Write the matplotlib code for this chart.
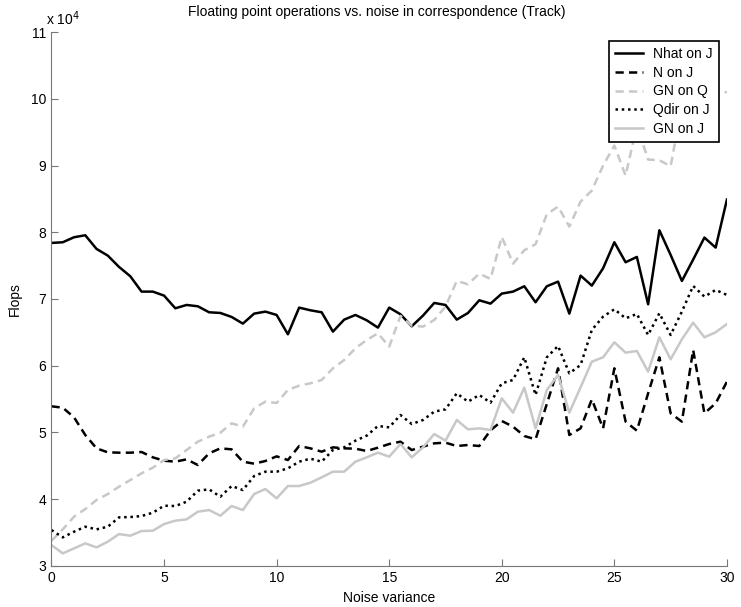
import numpy as np
import matplotlib
matplotlib.use('Agg')
from matplotlib import pyplot as plt

plt.rcParams['font.family'] = ['Liberation Sans', 'DejaVu Sans']

# noise variance levels, 0 to 30 in steps of 0.5
noise = np.linspace(0, 30, 61)

# flops, in units of 1e4
nhat_j = [7.84, 7.85, 7.925, 7.955, 7.75, 7.65, 7.48, 7.34, 7.11, 7.11,
          7.05, 6.86, 6.91, 6.89, 6.80, 6.79, 6.73, 6.63, 6.78, 6.81,
          6.76, 6.47, 6.87, 6.83, 6.80, 6.51, 6.69, 6.76, 6.68, 6.57,
          6.87, 6.77, 6.59, 6.75, 6.94, 6.91, 6.69, 6.79, 6.98, 6.93,
          7.08, 7.11, 7.19, 6.95, 7.19, 7.26, 6.78, 7.35, 7.20, 7.46,
          7.85, 7.55, 7.63, 6.92, 8.03, 7.66, 7.27, 7.59, 7.92, 7.77,
          8.49]
n_j = [5.39, 5.37, 5.225, 4.96, 4.76, 4.70, 4.695, 4.695, 4.705, 4.625,
       4.575, 4.56, 4.595, 4.51, 4.685, 4.76, 4.745, 4.56, 4.53, 4.57,
       4.64, 4.585, 4.795, 4.76, 4.71, 4.775, 4.76, 4.755, 4.72, 4.77,
       4.825, 4.86, 4.735, 4.785, 4.835, 4.845, 4.795, 4.81, 4.795, 5.03,
       5.17, 5.085, 4.945, 4.895, 5.425, 5.96, 4.96, 5.06, 5.495, 5.06,
       5.96, 5.16, 5.025, 5.585, 6.125, 5.285, 5.16, 6.235, 5.285, 5.435,
       5.76]
gn_q = [3.375, 3.545, 3.735, 3.85, 3.985, 4.075, 4.185, 4.285, 4.385, 4.47,
        4.585, 4.61, 4.735, 4.86, 4.935, 4.995, 5.135, 5.085, 5.36, 5.46,
        5.44, 5.635, 5.70, 5.735, 5.785, 5.96, 6.085, 6.26, 6.385, 6.485,
        6.285, 6.745, 6.60, 6.585, 6.685, 6.885, 7.27, 7.22, 7.38, 7.30,
        7.93, 7.53, 7.73, 7.82, 8.27, 8.385, 8.085, 8.46, 8.625, 9.0,
        9.3, 8.85, 9.6, 9.09, 9.08, 8.99, 9.9, 9.7, 10.2, 10.1,
        10.1]
qdir_j = [3.535, 3.425, 3.51, 3.585, 3.545, 3.585, 3.725, 3.73, 3.745, 3.795,
          3.90, 3.895, 3.96, 4.125, 4.145, 4.035, 4.195, 4.135, 4.345, 4.41,
          4.41, 4.46, 4.56, 4.605, 4.56, 4.735, 4.775, 4.875, 4.95, 5.095,
          5.075, 5.26, 5.125, 5.185, 5.31, 5.345, 5.585, 5.46, 5.56, 5.445,
          5.735, 5.785, 6.125, 5.56, 6.125, 6.295, 5.885, 6.01, 6.535, 6.735,
          6.845, 6.71, 6.775, 6.46, 6.785, 6.46, 6.81, 7.195, 7.035, 7.135,
          7.06]
gn_j = [3.31, 3.185, 3.26, 3.335, 3.275, 3.36, 3.475, 3.45, 3.52, 3.525,
        3.625, 3.675, 3.695, 3.81, 3.835, 3.75, 3.895, 3.835, 4.075, 4.15,
        4.01, 4.195, 4.195, 4.245, 4.325, 4.41, 4.41, 4.56, 4.625, 4.695,
        4.635, 4.825, 4.625, 4.775, 4.975, 4.875, 5.185, 5.045, 5.06, 5.035,
        5.51, 5.295, 5.67, 5.06, 5.635, 5.86, 5.295, 5.675, 6.06, 6.125,
        6.35, 6.195, 6.22, 5.91, 6.425, 6.095, 6.395, 6.645, 6.425, 6.5,
        6.625]

scale = 1e4
gray = '#c8c8c8'
lw = 1.8

fig = plt.figure(figsize=(7.41, 6.07), dpi=100)
ax = fig.add_axes([0.0695, 0.068, 0.9115, 0.879])

ax.plot(noise, np.array(nhat_j) * scale, color='k', lw=lw, label='Nhat on J')
ax.plot(noise, np.array(n_j) * scale, color='k', lw=lw, dashes=(3.3, 2.1), label='N on J')
ax.plot(noise, np.array(gn_q) * scale, color=gray, lw=lw, dashes=(3.3, 2.1), label='GN on Q')
ax.plot(noise, np.array(qdir_j) * scale, color='k', lw=lw, dashes=(1, 1.5), label='Qdir on J')
ax.plot(noise, np.array(gn_j) * scale, color=gray, lw=lw, label='GN on J')

ax.set_xlim(0, 30)
ax.set_ylim(3e4, 11e4)
ax.set_xticks(np.arange(0, 31, 5))
ax.set_yticks(np.arange(3, 12) * scale)
ax.set_yticklabels([str(v) for v in range(3, 12)])

for side in ['top', 'right']:
    ax.spines[side].set_visible(False)
for side in ['left', 'bottom']:
    ax.spines[side].set_color('#777777')
ax.tick_params(direction='in', length=5, color='#777777', labelsize=10, pad=4)

# exponent marker above the y axis
ax.text(-0.008, 1.008, r'x 10$^{4}$', transform=ax.transAxes, fontsize=10,
        ha='left', va='bottom')
ax.set_title('Floating point operations vs. noise in correspondence (Track)',
             fontsize=10, pad=12, x=0.482)
ax.set_xlabel('Noise variance', fontsize=10, labelpad=4)
ax.set_ylabel('Flops', fontsize=10, labelpad=6)

leg = ax.legend(loc='upper right', fontsize=10, handlelength=2.0,
                handletextpad=0.7, labelspacing=0.35, borderpad=0.45,
                borderaxespad=0.6, fancybox=False, framealpha=1)
leg.get_frame().set_edgecolor('k')
leg.get_frame().set_linewidth(1.2)

fig.savefig('out.png', dpi=100)
